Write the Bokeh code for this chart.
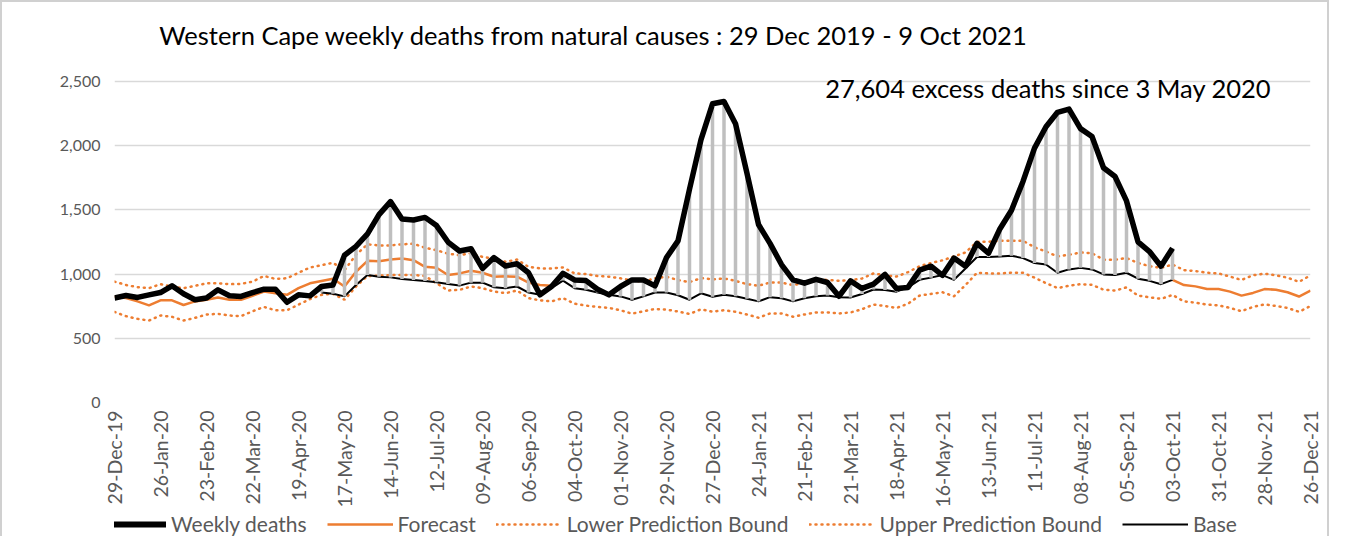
import math
from bokeh.plotting import figure
from bokeh.layouts import column
from bokeh.models import (Range1d, FixedTicker, Label, Legend, LegendItem,
                          ColumnDataSource, NumeralTickFormatter)
from bokeh.embed import file_html
from bokeh.resources import INLINE

nan = float("nan")

# ---- data (weekly, 29-Dec-2019 .. 26-Dec-2021, 105 weeks) ----
weekly_deaths = [
    813, 833, 818, 838, 856, 908, 846, 800, 813, 877, 831, 826, 856, 882, 882, 780, 838, 830,
    903, 915, 1146, 1215, 1313, 1462, 1564, 1428, 1421, 1441, 1377, 1249, 1179, 1197, 1044, 1128,
    1062, 1080, 1010, 838, 903, 1005, 954, 949, 882, 838, 903, 954, 954, 908, 1128, 1258, 1660,
    2046, 2325, 2343, 2170, 1784, 1386, 1239, 1074, 954, 929, 959, 934, 827, 947, 888, 921, 997,
    888, 896, 1030, 1061, 990, 1124, 1061, 1239, 1162, 1353, 1497, 1721, 1980, 2147, 2259, 2284,
    2132, 2071, 1827, 1759, 1569, 1251, 1175, 1061, 1201,
] + [nan] * 12

base = [nan] * 18 + [
    856, 846, 826, 915, 992, 979, 974, 962, 954, 946, 936, 923, 910, 933, 933, 897, 890, 903,
    856, 838, 890, 949, 890, 877, 856, 838, 826, 800, 826, 856, 856, 835, 800, 850, 823, 838,
    827, 807, 787, 820, 812, 787, 812, 827, 833, 820, 817, 845, 880, 875, 863, 896, 955, 972,
    992, 955, 1043, 1132, 1132, 1137, 1142, 1124, 1086, 1074, 1010, 1036, 1048, 1036, 997, 992,
    1010, 964, 947, 921, 955,
] + [nan] * 12

forecast = [
    826, 813, 787, 756, 795, 795, 759, 787, 800, 818, 800, 800, 831, 864, 851, 838, 890, 928,
    946, 964, 903, 1018, 1103, 1100, 1113, 1121, 1108, 1056, 1049, 992, 1005, 1026, 1010, 979,
    982, 979, 933, 915, 908,
] + [nan] * 53 + [
    955, 914, 904, 883, 883, 863, 832, 853, 883, 878, 858, 825, 871,
]

upper_bound = [
    941, 915, 897, 890, 921, 903, 890, 908, 928, 928, 921, 923, 941, 985, 962, 967, 1010, 1051,
    1069, 1087, 1030, 1150, 1231, 1223, 1223, 1231, 1236, 1205, 1185, 1159, 1146, 1164, 1133,
    1121, 1095, 1113, 1056, 1044, 1044, 1051, 1005, 1000, 985, 979, 967, 949, 941, 967, 979,
    953, 937, 968, 959, 965, 947, 921, 909, 934, 934, 914, 929, 959, 954, 947, 952, 965, 1005,
    990, 980, 1015, 1061, 1086, 1107, 1137, 1168, 1251, 1251, 1259, 1259, 1259, 1208, 1175,
    1137, 1150, 1168, 1162, 1112, 1112, 1124, 1086, 1061, 1048, 1074, 1030, 1023, 1010, 1005,
    980, 954, 990, 1003, 990, 972, 939, 990,
]

lower_bound = [
    705, 672, 651, 638, 677, 667, 638, 659, 685, 690, 677, 672, 710, 744, 718, 718, 762, 805,
    838, 846, 800, 903, 985, 987, 992, 992, 992, 985, 928, 872, 877, 903, 890, 864, 851, 872,
    813, 795, 787, 813, 769, 754, 744, 736, 718, 692, 710, 728, 723, 708, 689, 725, 707, 718,
    706, 685, 660, 693, 693, 668, 685, 701, 701, 693, 701, 726, 762, 751, 736, 769, 832, 845,
    858, 827, 914, 1010, 1005, 1005, 1010, 1010, 972, 929, 891, 909, 921, 916, 878, 871, 896,
    832, 819, 807, 837, 787, 777, 762, 756, 736, 711, 744, 764, 751, 736, 706, 751,
]

tick_labels = [
    "29-Dec-19", "26-Jan-20", "23-Feb-20", "22-Mar-20", "19-Apr-20", "17-May-20", "14-Jun-20",
    "12-Jul-20", "09-Aug-20", "06-Sep-20", "04-Oct-20", "01-Nov-20", "29-Nov-20", "27-Dec-20",
    "24-Jan-21", "21-Feb-21", "21-Mar-21", "18-Apr-21", "16-May-21", "13-Jun-21", "11-Jul-21",
    "08-Aug-21", "05-Sep-21", "03-Oct-21", "31-Oct-21", "28-Nov-21", "26-Dec-21",
]
y_ticks = [0, 500, 1000, 1500, 2000, 2500]
legend_labels = ["Weekly deaths", "Forecast", "Lower Prediction Bound",
                 "Upper Prediction Bound", "Base"]

title_text = "Western Cape weekly deaths from natural causes : 29 Dec 2019 - 9 Oct 2021"
note_text = "27,604 excess deaths since 3 May 2020"

weeks = list(range(len(upper_bound)))
tick_pos = [i * 4 for i in range(len(tick_labels))]

FONT = "Lato"
GREY_TXT = "#595959"
ORANGE = "#ED7D31"
BORDER = "2px solid #D0D0D0"

# ---------------- main chart ----------------
# the frame reaches up to the top so the title (a label) lies inside it;
# grid lines and tick labels stop at 2,500
p = figure(width=1329, height=514, output_backend="svg", toolbar_location=None,
           x_range=Range1d(0, 104), y_range=Range1d(0, 3067),
           min_border_left=112, min_border_right=21, min_border_top=6, min_border_bottom=114,
           background_fill_color="white", border_fill_color="white",
           styles={"border-top": BORDER, "border-left": BORDER, "border-right": BORDER})
p.outline_line_color = None

p.xaxis.ticker = FixedTicker(ticks=tick_pos)
p.xaxis.major_label_overrides = {t: l for t, l in zip(tick_pos, tick_labels)}
p.xaxis.major_label_orientation = math.pi / 2
p.xaxis.major_label_standoff = 8
p.xaxis.major_label_text_font_size = "19.5px"
p.yaxis.ticker = FixedTicker(ticks=y_ticks)
p.yaxis.formatter = NumeralTickFormatter(format="0,0")
p.yaxis.major_label_standoff = 14
p.yaxis.major_label_text_font_size = "16px"
for ax in (p.xaxis, p.yaxis):
    ax.axis_line_color = None
    ax.major_tick_line_color = None
    ax.minor_tick_line_color = None
    ax.major_tick_out = 0
    ax.major_label_text_font = FONT
    ax.major_label_text_color = GREY_TXT
p.xgrid.grid_line_color = None
p.ygrid.ticker = FixedTicker(ticks=y_ticks)
p.ygrid.grid_line_color = "#D9D9D9"
p.ygrid.grid_line_width = 1.5

src = ColumnDataSource(dict(week=weeks, weekly=weekly_deaths, base=base, forecast=forecast,
                            upper=upper_bound, lower=lower_bound))

dot_style = dict(line_color=ORANGE, line_width=2.5, line_dash="1 5", line_cap="round")
p.line("week", "lower", source=src, **dot_style)
p.line("week", "upper", source=src, **dot_style)
p.line("week", "forecast", source=src, line_color=ORANGE, line_width=2.5)
p.line("week", "base", source=src, line_color="black", line_width=2)
p.segment(x0="week", y0="base", x1="week", y1="weekly", source=src,
          line_color="#BFBFBF", line_width=3.5)
p.line("week", "weekly", source=src, line_color="black", line_width=5.5, line_join="round")

p.add_layout(Label(x=3.9, y=2860, text=title_text, text_font=FONT, text_font_size="25.5px",
                   text_color="black", text_baseline="middle"))
p.add_layout(Label(x=61.8, y=2449, text=note_text, text_font=FONT, text_font_size="25.5px",
                   text_color="black", text_baseline="middle"))

# ---------------- legend strip (tucked under the axis labels) ----------------
lg = figure(width=1329, height=26, output_backend="svg", toolbar_location=None,
            x_range=Range1d(0, 1), y_range=Range1d(0, 1), min_border=0,
            x_axis_location=None, y_axis_location=None,
            background_fill_alpha=0, border_fill_alpha=0, margin=(-4, 0, 0, 0),
            styles={"border-left": BORDER, "border-right": BORDER})
lg.outline_line_color = None
lg.grid.grid_line_color = None
off_x = [5, 6]  # outside the strip's range: only the legend swatches show
off_y = [5, 6]
l_week = lg.line(off_x, off_y, line_color="black", line_width=6, line_cap="round")
l_fore = lg.line(off_x, off_y, line_color=ORANGE, line_width=2.5)
l_low = lg.line(off_x, off_y, **dot_style)
l_up = lg.line(off_x, off_y, **dot_style)
l_base = lg.line(off_x, off_y, line_color="black", line_width=2)
legend = Legend(items=[LegendItem(label=t, renderers=[r]) for t, r in
                       zip(legend_labels, [l_week, l_fore, l_low, l_up, l_base])],
                orientation="horizontal", location=(-14, 0))
legend.label_text_font = FONT
legend.label_text_font_size = "21px"
legend.label_text_color = GREY_TXT
legend.glyph_width = 66
legend.glyph_height = 18
legend.label_height = 18
legend.label_standoff = 5
legend.spacing = 20
legend.padding = 0
legend.margin = 0
legend.border_line_color = None
legend.background_fill_alpha = 0
lg.add_layout(legend, "center")

layout = column(p, lg, spacing=0)
open("out.html", "w").write(file_html(layout, INLINE))
